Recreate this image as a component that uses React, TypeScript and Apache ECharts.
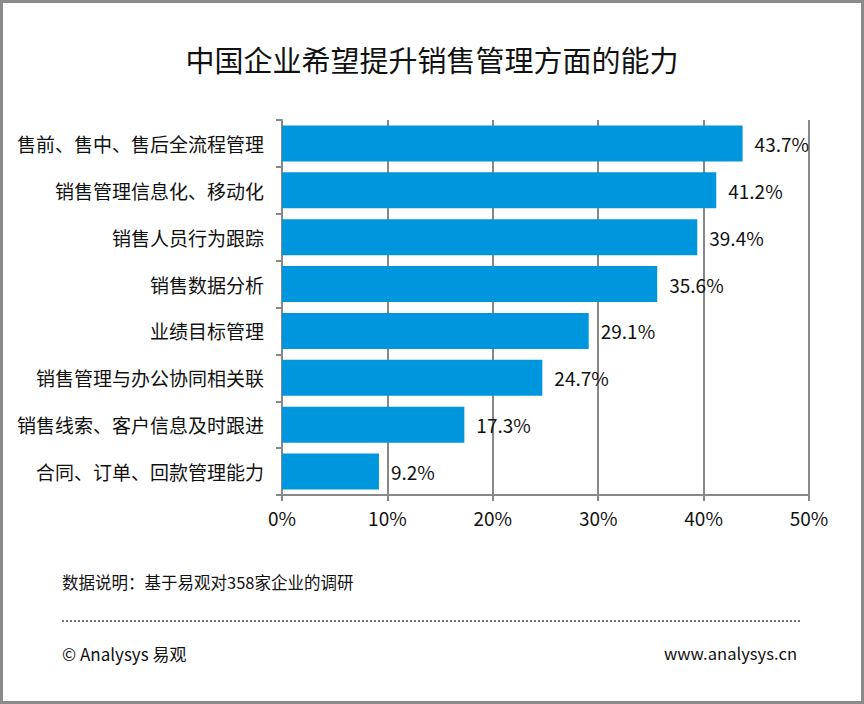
import React, { useEffect, useRef } from "react";
import * as echarts from "echarts";

const title = "中国企业希望提升销售管理方面的能力";
const categories = [
  "售前、售中、售后全流程管理",
  "销售管理信息化、移动化",
  "销售人员行为跟踪",
  "销售数据分析",
  "业绩目标管理",
  "销售管理与办公协同相关联",
  "销售线索、客户信息及时跟进",
  "合同、订单、回款管理能力",
];
const values = [43.7, 41.2, 39.4, 35.6, 29.1, 24.7, 17.3, 9.2];
const note = "数据说明：基于易观对358家企业的调研";
const copyright = "© Analysys 易观";
const website = "www.analysys.cn";

const FONT = "'Noto Sans CJK SC', 'Noto Sans', sans-serif";

export default function App() {
  const ref = useRef<HTMLDivElement>(null);
  useEffect(() => {
    if (!ref.current) return;
    const chart = echarts.init(ref.current, undefined, { renderer: "svg" });
    chart.setOption({
      animation: false,
      backgroundColor: "#ffffff",
      textStyle: { fontFamily: FONT },
      title: {
        text: title,
        left: "center",
        top: 39,
        textStyle: { fontSize: 29, fontWeight: "normal", color: "#111", fontFamily: FONT },
      },
      grid: { left: 282, right: 55, top: 120, height: 375 },
      xAxis: {
        type: "value",
        min: 0,
        max: 50,
        interval: 10,
        axisLine: { show: true, lineStyle: { color: "#888", width: 2 } },
        axisTick: { show: true, length: 6, lineStyle: { color: "#888", width: 2 } },
        splitLine: { show: true, lineStyle: { color: "#888", width: 2 } },
        axisLabel: {
          formatter: "{value}%",
          fontSize: 19,
          color: "#111",
          margin: 13,
          fontFamily: FONT,
        },
      },
      yAxis: {
        type: "category",
        data: categories,
        inverse: true,
        axisLine: { show: true, lineStyle: { color: "#888", width: 2 } },
        axisTick: { show: true, length: 6, lineStyle: { color: "#888", width: 2 } },
        axisLabel: { fontSize: 19, color: "#111", margin: 18, fontFamily: FONT },
      },
      series: [
        {
          type: "bar",
          data: values,
          barCategoryGap: "23%",
          itemStyle: { color: "#0096dd" },
          label: {
            show: true,
            position: "right",
            distance: 12,
            formatter: (p: any) => p.value.toFixed(1) + "%",
            fontSize: 19,
            color: "#111",
            fontFamily: FONT,
          },
        },
      ],
      graphic: [
        {
          type: "rect",
          shape: { x: 1.5, y: 1.5, width: 861, height: 701 },
          style: { fill: "none", stroke: "#8a8a8a", lineWidth: 3 },
          silent: true,
        },
        {
          type: "text",
          left: 62,
          top: 574,
          style: { text: note, fontSize: 16.5, fill: "#111", fontFamily: FONT },
        },
        {
          type: "line",
          shape: { x1: 62, y1: 621, x2: 800, y2: 621 },
          style: { stroke: "#777", lineWidth: 2, lineDash: [2, 2] },
        },
        {
          type: "text",
          left: 62,
          top: 645,
          style: { text: copyright, fontSize: 17, fill: "#111", fontFamily: FONT },
        },
        {
          type: "text",
          right: 67,
          top: 645,
          style: { text: website, fontSize: 16.6, fill: "#111", fontFamily: FONT },
        },
      ],
    });
    return () => chart.dispose();
  }, []);
  return (
    <div style={{ position: "fixed", left: 0, top: 0, width: 864, height: 704, background: "#fff" }}>
      <div ref={ref} style={{ width: 864, height: 704 }} />
    </div>
  );
}
